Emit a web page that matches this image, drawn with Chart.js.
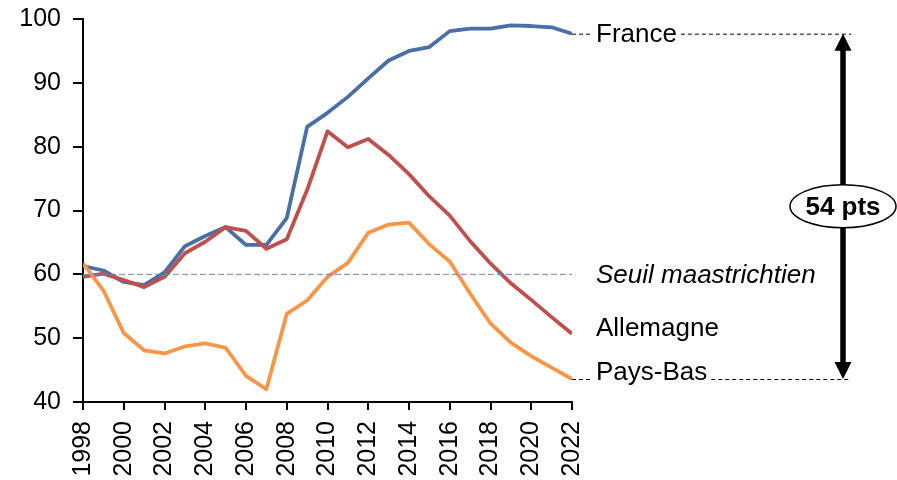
<!DOCTYPE html>
<html>
<head>
<meta charset="utf-8">
<script src="https://cdn.jsdelivr.net/npm/chart.js@4.4.1/dist/chart.umd.min.js"></script>
<style>
html,body{margin:0;padding:0;background:#fff;}
#wrap{width:897px;height:480px;position:relative;}
</style>
</head>
<body>
<div id="wrap"><canvas id="c" width="897" height="480"></canvas></div>
<script>
const years = [1998,1999,2000,2001,2002,2003,2004,2005,2006,2007,2008,2009,2010,2011,2012,2013,2014,2015,2016,2017,2018,2019,2020,2021,2022];
const france    = [61.3,60.6,58.8,58.3,60.3,64.4,66.0,67.4,64.6,64.6,68.8,83.1,85.3,87.8,90.7,93.5,95.0,95.6,98.1,98.5,98.5,99.0,98.9,98.7,97.7];
const allemagne = [59.6,60.1,59.1,58.0,59.6,63.3,65.1,67.4,66.8,64.0,65.5,73.2,82.4,79.9,81.2,78.7,75.7,72.2,69.2,65.2,61.7,58.6,56.0,53.3,50.7];
const paysBas   = [61.7,57.5,50.8,48.1,47.6,48.7,49.2,48.5,44.1,42.0,53.8,55.9,59.6,61.8,66.5,67.8,68.1,64.7,62.0,57.0,52.3,49.3,47.2,45.4,43.6];
const seuil = 60;
const yTicks = [40,50,60,70,80,90,100];
const xTickYears = [1998,2000,2002,2004,2006,2008,2010,2012,2014,2016,2018,2020,2022];
const seriesNames = ['France','Allemagne','Pays-Bas'];
const seuilLabel = 'Seuil maastrichtien';
const ecartLabel = '54 pts';

const pts = arr => arr.map((v,i)=>({x:years[i], y:v}));
const FONT = '"Liberation Sans", Arial, sans-serif';

const annot = {
  id:'annot',
  afterDatasetsDraw(chart){
    const ctx = chart.ctx, xs = chart.scales.x, ys = chart.scales.y;
    const xEnd = xs.getPixelForValue(years[years.length-1]);
    const lx = xEnd + 24;
    const arrowX = 843;
    const last = a => a[a.length-1];
    const yF = ys.getPixelForValue(last(france));
    const yP = ys.getPixelForValue(last(paysBas));
    const yA = ys.getPixelForValue(last(allemagne));
    const yS = ys.getPixelForValue(seuil);
    ctx.save();
    ctx.fillStyle = '#000';
    ctx.font = '26px ' + FONT;
    ctx.textBaseline = 'middle';
    ctx.textAlign = 'left';
    ctx.fillText(seriesNames[0], lx, yF + 1);
    const wF = ctx.measureText(seriesNames[0]).width;
    ctx.fillText(seriesNames[1], lx, yA - 5);
    ctx.textBaseline = 'alphabetic';
    ctx.fillText(seriesNames[2], lx, yP + 1);
    const wP = ctx.measureText(seriesNames[2]).width;
    ctx.font = 'italic 26px ' + FONT;
    ctx.textBaseline = 'middle';
    ctx.fillText(seuilLabel, lx, yS + 1);
    // dashed leader lines
    ctx.strokeStyle = '#000';
    ctx.lineWidth = 1;
    ctx.setLineDash([4,3]);
    ctx.beginPath();
    ctx.moveTo(xEnd, yF + 0.5); ctx.lineTo(lx - 3, yF + 0.5);
    ctx.moveTo(lx + wF + 4, yF + 0.5); ctx.lineTo(arrowX + 8, yF + 0.5);
    ctx.moveTo(xEnd, yP + 0.5); ctx.lineTo(lx - 3, yP + 0.5);
    ctx.moveTo(lx + wP + 4, yP + 0.5); ctx.lineTo(arrowX + 8, yP + 0.5);
    ctx.stroke();
    ctx.setLineDash([]);
    // arrow
    const head = 17, hw = 8.5;
    ctx.lineWidth = 5.5;
    ctx.beginPath();
    ctx.moveTo(arrowX, yF + head - 1); ctx.lineTo(arrowX, yP - head + 1);
    ctx.stroke();
    ctx.beginPath();
    ctx.moveTo(arrowX, yF); ctx.lineTo(arrowX - hw, yF + head); ctx.lineTo(arrowX + hw, yF + head); ctx.closePath();
    ctx.moveTo(arrowX, yP); ctx.lineTo(arrowX - hw, yP - head); ctx.lineTo(arrowX + hw, yP - head); ctx.closePath();
    ctx.fill();
    // ellipse
    const cy = (yF + yP) / 2;
    ctx.beginPath();
    ctx.ellipse(arrowX, cy, 53, 21.5, 0, 0, Math.PI*2);
    ctx.fillStyle = '#fff';
    ctx.fill();
    ctx.lineWidth = 1.5;
    ctx.strokeStyle = '#000';
    ctx.stroke();
    ctx.fillStyle = '#000';
    ctx.font = 'bold 26px ' + FONT;
    ctx.textAlign = 'center';
    ctx.textBaseline = 'middle';
    ctx.fillText(ecartLabel, arrowX, cy + 1);
    ctx.restore();
  }
};

new Chart(document.getElementById('c'), {
  type:'line',
  data:{
    datasets:[
      {label:'Seuil', data:[{x:years[0],y:seuil},{x:years[years.length-1],y:seuil}], borderColor:'#6a87ab', borderWidth:1, borderDash:[6,3], pointRadius:0, fill:false},
      {label:seriesNames[2], data:pts(paysBas), borderColor:'#F79646', borderWidth:3.8, pointRadius:0, fill:false, tension:0},
      {label:seriesNames[1], data:pts(allemagne), borderColor:'#C0504D', borderWidth:3.8, pointRadius:0, fill:false, tension:0},
      {label:seriesNames[0], data:pts(france), borderColor:'#4A6FA5', borderWidth:3.8, pointRadius:0, fill:false, tension:0}
    ]
  },
  options:{
    responsive:false,
    animation:false,
    events:[],
    layout:{padding:{top:19,right:325,left:0,bottom:0}},
    plugins:{legend:{display:false}, tooltip:{enabled:false}},
    elements:{line:{borderCapStyle:'butt', borderJoinStyle:'round'}},
    scales:{
      x:{
        type:'linear', min:years[0], max:years[years.length-1],
        afterBuildTicks(s){ s.ticks = xTickYears.map(v=>({value:v})); },
        afterFit(s){ s.height = 78; s.paddingLeft = 0; s.paddingRight = 0; },
        grid:{display:true, drawOnChartArea:false, drawTicks:true, tickLength:8, color:'#000', lineWidth:2},
        border:{display:true, color:'#000', width:2},
        ticks:{autoSkip:false, minRotation:90, maxRotation:90, padding:11, color:'#000',
          font:{family:FONT, size:25},
          callback:v=>String(v)}
      },
      y:{
        min:yTicks[0], max:yTicks[yTicks.length-1],
        afterBuildTicks(s){ s.ticks = yTicks.map(v=>({value:v})); },
        afterFit(s){ s.width = 83; s.paddingTop = 0; s.paddingBottom = 0; },
        grid:{display:true, drawOnChartArea:false, drawTicks:true, tickLength:10, color:'#000', lineWidth:2},
        border:{display:true, color:'#000', width:2},
        ticks:{padding:12, color:'#000',
          font:{family:FONT, size:25},
          callback:v=>String(v)}
      }
    }
  },
  plugins:[annot]
});
</script>
</body>
</html>
